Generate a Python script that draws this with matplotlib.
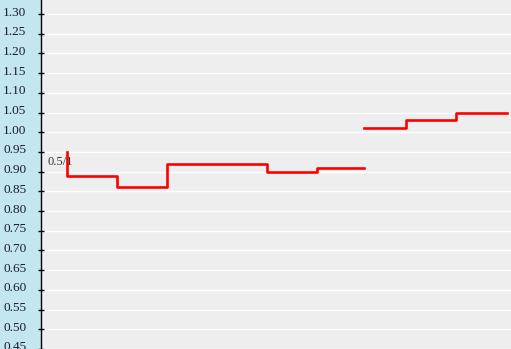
import matplotlib
matplotlib.use('Agg')
import matplotlib.pyplot as plt
import matplotlib.transforms as mtrans
import numpy as np

# step series (x in period units, y values)
x_a = [0, 1, 2, 3, 4, 5, 5.94]
y_a = [0.95, 0.89, 0.86, 0.92, 0.92, 0.90, 0.91]
x_b = [5.94, 6.78, 7.78, 8.8]
y_b = [1.01, 1.01, 1.03, 1.05]
y_ticks = np.round(np.arange(0.45, 1.301, 0.05), 2)
note = "0.5/1"

fig = plt.figure(figsize=(5.11, 3.49), dpi=100, facecolor='#c3e6f1')
ax = fig.add_axes([41 / 511, 0, 470 / 511, 1])
ax.set_facecolor('#eeeeee')

ax.set_xlim(-0.52, 8.88)
ax.set_ylim(0.4633, 1.3357)
ax.set_yticks(y_ticks)
ax.set_yticklabels([f"{v:.2f}" for v in y_ticks])
ax.set_xticks([])
ax.yaxis.grid(True, color='white', linewidth=1.0)
ax.set_axisbelow(True)

for s in ['top', 'right', 'bottom']:
    ax.spines[s].set_visible(False)
ax.spines['left'].set_color('black')
ax.spines['left'].set_linewidth(1.0)

ax.tick_params(axis='y', direction='inout', length=5, width=1, color='black',
               pad=8, labelsize=9.5, labelcolor='#1c1c30')
shift = mtrans.ScaledTranslation(0, 3 / 100, fig.dpi_scale_trans)
for lb in ax.get_yticklabels():
    lb.set_family('Liberation Serif')
    lb.set_transform(lb.get_transform() + shift)

ax.plot(x_a, y_a, drawstyle='steps-pre', color='red', linewidth=1.9)
ax.plot(x_b, y_b, drawstyle='steps-pre', color='red', linewidth=1.9)

ax.text(-0.38, 0.918, note, family='Liberation Serif', fontsize=9,
        color='#333333', va='baseline', ha='left')

fig.savefig('out.png', dpi=100, facecolor=fig.get_facecolor())
